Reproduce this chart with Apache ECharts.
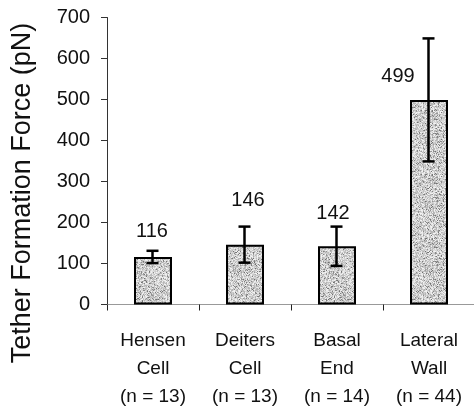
<!DOCTYPE html>
<html>
<head>
<meta charset="utf-8">
<script src="https://cdn.jsdelivr.net/npm/echarts@6/dist/echarts.min.js"></script>
<style>
  html, body { margin: 0; padding: 0; background: #fff; }
  #chart { width: 474px; height: 412px; }
</style>
</head>
<body>
<div id="chart"></div>
<script>
const categories = ["Hensen\nCell\n(n = 13)", "Deiters\nCell\n(n = 13)", "Basal\nEnd\n(n = 14)", "Lateral\nWall\n(n = 44)"];
const means = [116, 146, 142, 499];
const errors = [15, 44, 48, 150];
const yTicks = [0, 100, 200, 300, 400, 500, 600, 700];

// where each value label sits (Excel-style hand placement)
const labelOffsets = [[-1, -15], [3, -34], [-4, -23], [-31, -13]];

const chart = echarts.init(document.getElementById("chart"));

// stippled gray fill, like the print
function stipple() {
  const c = document.createElement("canvas");
  c.width = 64; c.height = 64;
  const ctx = c.getContext("2d");
  const img = ctx.createImageData(64, 64);
  let s = 12345;
  const rnd = () => { s = (s * 1103515245 + 12345) & 0x7fffffff; return s / 0x7fffffff; };
  for (let i = 0; i < 64 * 64; i++) {
    const r = rnd();
    let g = r < 0.12 ? 110 + rnd() * 50 : 175 + rnd() * 70;
    img.data[i * 4] = img.data[i * 4 + 1] = img.data[i * 4 + 2] = g;
    img.data[i * 4 + 3] = 255;
  }
  ctx.putImageData(img, 0, 0);
  return c;
}
const fill = { image: stipple(), repeat: "repeat" };

const font = "'Liberation Sans', Arial, sans-serif";

chart.setOption({
  animation: false,
  grid: { left: 107, right: -1, top: 17.5, bottom: 107.5, outerBoundsMode: "none", containLabel: false },
  xAxis: {
    type: "category",
    data: categories,
    axisLine: { lineStyle: { color: "#999", width: 1 } },
    axisTick: { show: true, length: 6, lineStyle: { color: "#222" } },
    axisLabel: { color: "#111", fontFamily: font, fontSize: 19, lineHeight: 28, margin: 22, interval: 0 },
  },
  yAxis: {
    type: "value",
    min: 0, max: 700, interval: 100,
    name: "Tether Formation Force (pN)",
    nameLocation: "middle",
    nameGap: 71,
    // right padding pushes the title down, as in the original
    nameTextStyle: { color: "#111", fontFamily: font, fontSize: 27, padding: [0, 64, 0, 0] },
    axisLine: { show: true, lineStyle: { color: "#333", width: 1 } },
    axisTick: { show: true, length: 6, lineStyle: { color: "#333" } },
    axisLabel: {
      color: "#111", fontFamily: font, fontSize: 20, margin: 17,
      formatter: v => yTicks.includes(v) ? String(v) : "",
    },
    splitLine: { show: false },
  },
  series: [
    {
      type: "bar",
      barWidth: 38,
      data: means.map((v, i) => ({
        value: v,
        label: { offset: labelOffsets[i] },
      })),
      itemStyle: { color: fill, borderColor: "#000", borderWidth: 2 },
      label: {
        show: true, position: "top", distance: 0,
        color: "#111", fontFamily: font, fontSize: 20, lineHeight: 20,
      },
      z: 2,
    },
    {
      type: "custom",
      data: means.map((v, i) => [i, v - errors[i], v + errors[i]]),
      renderItem: (params, api) => {
        const lo = api.coord([api.value(0), api.value(1)]);
        const hi = api.coord([api.value(0), api.value(2)]);
        const x = Math.round(lo[0]) - 0.5;
        const cap = 6;
        const style = { stroke: "#000", lineWidth: 2.5, fill: null };
        return {
          type: "group",
          children: [
            { type: "line", shape: { x1: x, y1: hi[1], x2: x, y2: lo[1] }, style },
            { type: "line", shape: { x1: x - cap, y1: hi[1], x2: x + cap, y2: hi[1] }, style },
            { type: "line", shape: { x1: x - cap, y1: lo[1], x2: x + cap, y2: lo[1] }, style },
          ],
        };
      },
      z: 3,
    },
  ],
});
</script>
</body>
</html>
